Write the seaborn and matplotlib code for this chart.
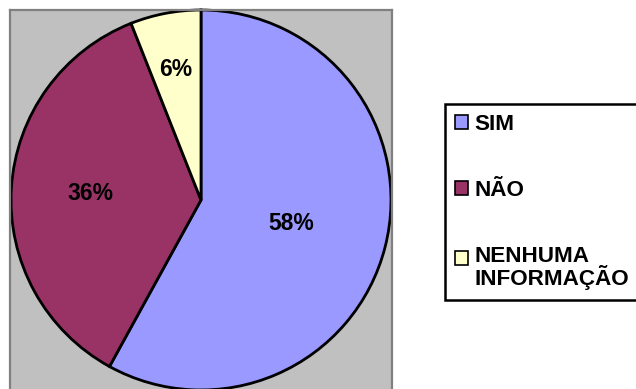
import matplotlib
matplotlib.use("Agg")
import matplotlib.pyplot as plt
from matplotlib.patches import Rectangle
from matplotlib.legend_handler import HandlerPatch
import seaborn as sns
import numpy as np

# Survey answers
categories = ["SIM", "NÃO", "NENHUMA\nINFORMAÇÃO"]
shares = [58, 36, 6]
slice_colors = ["#9999FF", "#993366", "#FFFFCC"]

sns.set_style("white")
plt.rcParams["font.family"] = ["Liberation Sans", "DejaVu Sans"]
plt.rcParams["font.weight"] = "bold"
plt.rcParams["text.color"] = "black"

W, H = 636, 389
fig = plt.figure(figsize=(W / 100, H / 100), dpi=100)
fig.patch.set_facecolor("white")

# plot area in pixel terms (left, top, right, bottom)
px_l, px_t, px_r, px_b = 10, 10, 392, 420
ax = fig.add_axes([px_l / W, 1 - px_b / H, (px_r - px_l) / W, (px_b - px_t) / H])

palette = sns.color_palette(slice_colors)
wedges, texts, autotexts = ax.pie(
    shares,
    colors=palette,
    startangle=90,
    counterclock=False,
    autopct="%1.0f%%",
    wedgeprops=dict(edgecolor="black", linewidth=2.0),
    textprops=dict(fontsize=16.5, fontweight="bold", color="black"),
)

# radial placement of the percentage labels, per slice
label_radius = [0.49, 0.585, 0.70]
for w, t, r in zip(wedges, autotexts, label_radius):
    mid = np.deg2rad((w.theta1 + w.theta2) / 2)
    t.set_position((r * np.cos(mid), r * np.sin(mid)))
    t.set_ha("center")
    t.set_va("center")

# pie centre at (201, 200) px, radius 190 px
cx, cy, rad = 201, 200, 190
ax.set_aspect("auto")
ax.set_xlim(-(cx - px_l) / rad, (px_r - cx) / rad)
ax.set_ylim(-(px_b - cy) / rad, (cy - px_t) / rad)
ax.set_frame_on(True)
ax.set_facecolor("#C0C0C0")
for s in ax.spines.values():
    s.set_visible(True)
    s.set_color("#808080")
    s.set_linewidth(1.6)
ax.set_xticks([])
ax.set_yticks([])

LEG_SIZE = 16.2
LINE_SP = 0.88


def square_on_first_line(legend, orig_handle, xdescent, ydescent, width, height, fontsize):
    # keep the key next to the first line of a two-line label
    shift = 0.5 * LINE_SP * fontsize
    return Rectangle((-xdescent, -ydescent + shift), width, height)


leg = fig.legend(
    wedges,
    categories,
    loc="upper left",
    bbox_to_anchor=(445 / W, 1 - 104 / H, 205 / W, 0),
    mode="expand",
    frameon=True,
    fancybox=False,
    edgecolor="black",
    framealpha=1,
    prop=dict(family="Liberation Sans", weight="bold", size=LEG_SIZE),
    handlelength=0.58,
    handleheight=0.58,
    handletextpad=0.27,
    borderpad=0.45,
    borderaxespad=0,
    labelspacing=2.0,
    handler_map={wedges[2]: HandlerPatch(patch_func=square_on_first_line)},
)
leg.get_frame().set_linewidth(1.8)
for h in leg.legend_handles:
    h.set_linewidth(1.2)
    h.set_edgecolor("black")
for t in leg.get_texts():
    t.set_linespacing(LINE_SP)
    t.set_color("black")

fig.savefig("out.png", dpi=100)
